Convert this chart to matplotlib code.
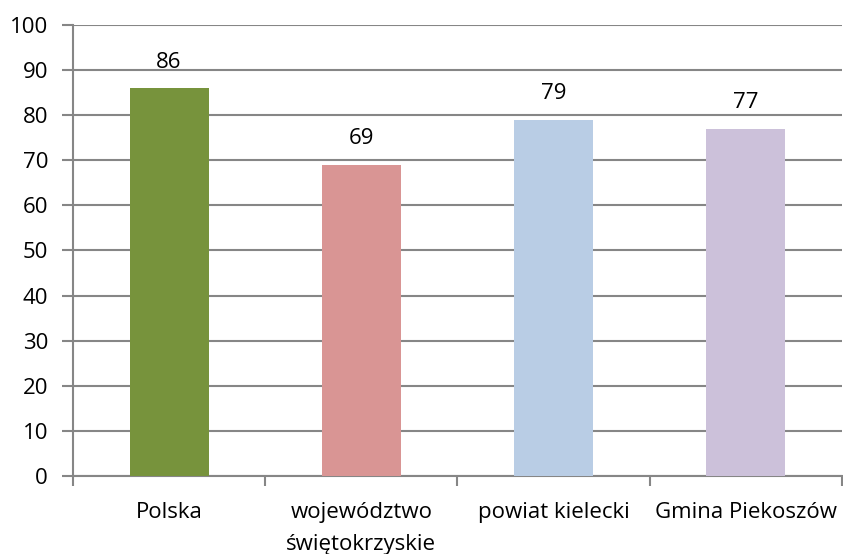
import numpy as np
import matplotlib.pyplot as plt

categories = ['Polska', 'województwo\nświętokrzyskie', 'powiat kielecki', 'Gmina Piekoszów']
values = [86, 69, 79, 77]
colors = ['#77933C', '#D99594', '#B9CDE5', '#CCC1DA']

plt.rcParams['font.family'] = ['Open Sans', 'DejaVu Sans']
fs = 16

fig = plt.figure(figsize=(8.43, 5.54), dpi=100)
ax = fig.add_axes([0.0866, 0.1408, 0.912, 0.8141])

x = np.arange(len(categories))
ax.bar(x, values, width=0.41, color=colors, zorder=3)

# etichette sopra le barre
for i, v in enumerate(values):
    ax.text(i, v + 3.4, str(v), ha='center', va='bottom', fontsize=fs, color='black')

grid_col = '#868686'
ax.set_ylim(0, 100)
ax.set_xlim(-0.5, len(categories) - 0.5)
ax.set_yticks(np.arange(0, 101, 10))
ax.yaxis.grid(True, color=grid_col, linewidth=1.5, zorder=0)
ax.set_axisbelow(True)

ax.set_xticks(x)
ax.set_xticklabels(categories, fontsize=fs, linespacing=1.65)
ax.set_xticks(np.arange(-0.5, len(categories), 1), minor=True)
ax.tick_params(axis='x', which='major', length=0, pad=19)
ax.tick_params(axis='x', which='minor', length=7, width=1.5, color=grid_col)
ax.tick_params(axis='y', length=8, width=1.5, color=grid_col, labelsize=fs, pad=10)

for s in ['top', 'right']:
    ax.spines[s].set_visible(False)
for s in ['left', 'bottom']:
    ax.spines[s].set_color(grid_col)
    ax.spines[s].set_linewidth(1.5)

fig.savefig('out.png', dpi=100)
